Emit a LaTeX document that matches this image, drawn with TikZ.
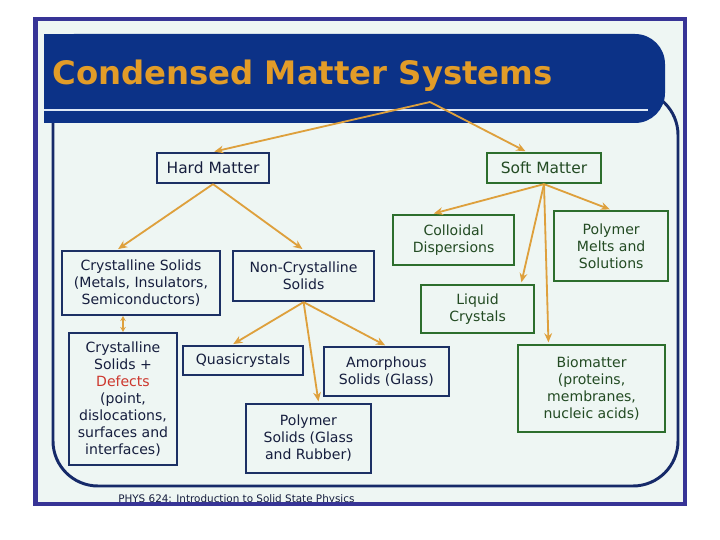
\documentclass[tikz,border=0pt]{standalone}
\usepackage{fontspec}
\setmainfont{DejaVu Sans}
\usetikzlibrary{calc,arrows.meta}
\definecolor{framecol}{RGB}{55,52,150}
\definecolor{slidebg}{RGB}{238,246,243}
\definecolor{bannercol}{RGB}{12,50,135}
\definecolor{bannerline}{RGB}{222,232,246}
\definecolor{outlinecol}{RGB}{22,42,105}
\definecolor{titlecol}{RGB}{226,156,40}
\definecolor{navyline}{RGB}{28,48,100}
\definecolor{navytext}{RGB}{22,30,62}
\definecolor{greenline}{RGB}{45,110,45}
\definecolor{greentext}{RGB}{35,75,35}
\definecolor{arrowcol}{RGB}{222,160,60}
\definecolor{defectcol}{RGB}{205,55,45}

\begin{document}
\begin{tikzpicture}[
    >={Stealth[length=6.5pt,width=5.5pt]},
    hardbox/.style={draw=navyline, line width=1.6pt, text=navytext, align=center,
      inner sep=1pt, font=\fontsize{10}{12}\selectfont},
    softbox/.style={hardbox, draw=greenline, text=greentext},
    link/.style={->, draw=arrowcol, line width=1.3pt, shorten >=1pt},
    twoway/.style={<->, draw=arrowcol, line width=1pt,
      >={Stealth[length=3.5pt,width=4pt]}}
  ]
  \useasboundingbox (0,0) rectangle (18,13.5);

  % Slide: frame, banner, outline
  \fill[white] (0,0) rectangle (18,13.5);
  \fill[slidebg] (0.8875,0.9) rectangle (17.125,13.025);
  \draw[outlinecol, line width=2.1pt, rounded corners=1.125cm]
  (1.325,10.6) -- (1.325,1.35) -- (16.95,1.35) -- (16.95,11.25) -- (12,11.25);
  \fill[bannercol, rounded corners=0.75cm] (1.1,10.425) rectangle (16.625,12.65);
  \fill[bannercol] (1.1,10.425) rectangle (3,12.65);
  \draw[bannerline, line width=1.4pt] (1.1,10.75) -- (16.2,10.75);
  \node[anchor=base west, inner sep=0pt, text=titlecol,
  font=\fontsize{23}{26}\selectfont\bfseries] (title) at (1.3,11.375) {Condensed Matter Systems};
  \coordinate (split) at (10.75,10.95);

  % Hard matter side
  \node[hardbox, minimum width=2.8cm, minimum height=0.75cm,
  font=\fontsize{11}{13}\selectfont] (hard) at (5.325,9.3) {Hard Matter};
  \node[hardbox, minimum width=3.95cm, minimum height=1.6cm] (cryst) at (3.525,6.425)
  {Crystalline Solids\\(Metals, Insulators,\\Semiconductors)};
  \node[hardbox, minimum width=3.525cm, minimum height=1.25cm] (noncryst) at (7.59,6.6)
  {Non-Crystalline\\Solids};
  \node[hardbox, minimum width=2.7cm, minimum height=3.3cm] (defects) at (3.075,3.525)
  {Crystalline\\Solids +\\\textcolor{defectcol}{Defects}\\(point,\\dislocations,\\surfaces and\\interfaces)};
  \node[hardbox, minimum width=3cm, minimum height=0.725cm] (quasi) at (6.075,4.49)
  {Quasicrystals};
  \node[hardbox, minimum width=3.125cm, minimum height=1.225cm] (amorph) at (9.66,4.21)
  {Amorphous\\Solids (Glass)};
  \node[hardbox, minimum width=3.125cm, minimum height=1.725cm] (polysolid) at (7.71,2.54)
  {Polymer\\Solids (Glass\\and Rubber)};

  % Soft matter side
  \node[softbox, minimum width=2.85cm, minimum height=0.75cm,
  font=\fontsize{11}{13}\selectfont] (soft) at (13.6,9.3) {Soft Matter};
  \node[softbox, minimum width=3.025cm, minimum height=1.25cm] (colloid) at (11.34,7.5)
  {Colloidal\\Dispersions};
  \node[softbox, minimum width=2.85cm, minimum height=1.75cm] (melts) at (15.28,7.35)
  {Polymer\\Melts and\\Solutions};
  \node[softbox, minimum width=2.825cm, minimum height=1.2cm] (liquid) at (11.94,5.78)
  {Liquid\\Crystals};
  \node[softbox, minimum width=3.675cm, minimum height=2.175cm] (bio) at (14.79,3.79)
  {Biomatter\\(proteins,\\membranes,\\nucleic acids)};

  % Arrows
  \draw[link] (split) -- (hard.north);
  \draw[link] (split) -- (soft.137);
  \draw[link] (hard.south) -- (cryst.126);
  \draw[link] (hard.south) -- (noncryst.north);
  \draw[twoway] (defects.north) -- (defects.north |- cryst.south);
  \draw[link] (noncryst.south) -- (quasi.125);
  \draw[link] (noncryst.south) -- (amorph.north);
  \draw[link] (noncryst.south) -- (polysolid.74);
  \draw[link] (soft.south) -- (colloid.129);
  \draw[link] (soft.south) -- (melts.north);
  \draw[link] (soft.south) -- (liquid.30);
  \draw[link] (soft.south) -- (bio.134);

  % Footer, cut by the frame
  \node[anchor=base west, inner sep=0pt, text=navytext,
  font=\fontsize{7.4}{9}\selectfont] (footer) at (2.95,0.93)
  {PHYS 624: Introduction to Solid State Physics};
  \draw[framecol, line width=2.85pt] (0.8875,0.9) rectangle (17.125,13.025);
\end{tikzpicture}
\end{document}
